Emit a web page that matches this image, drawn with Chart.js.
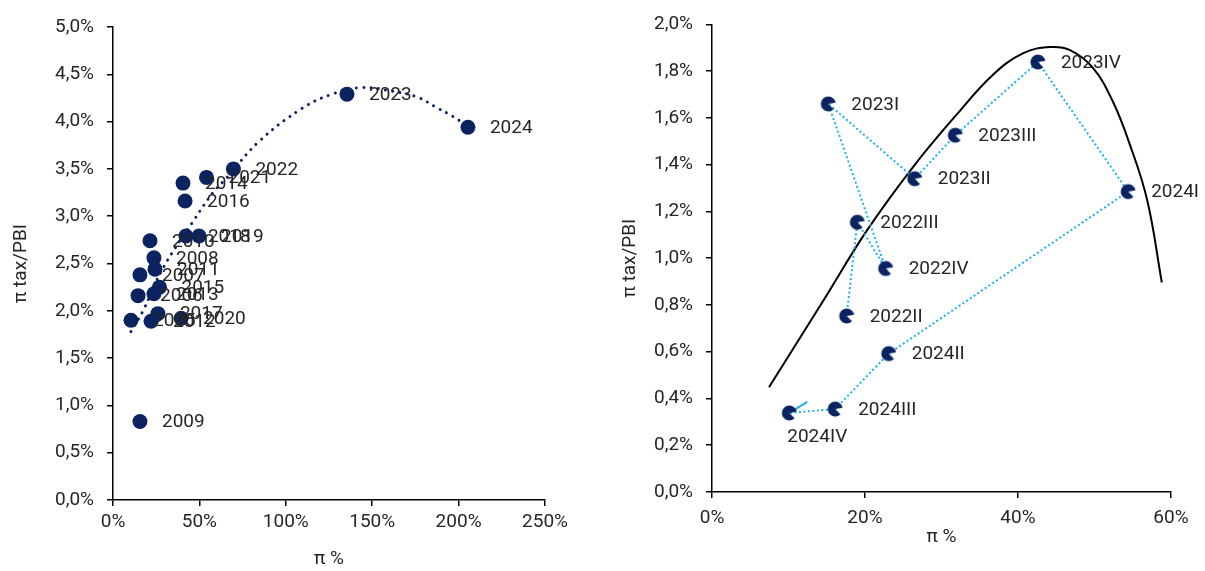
<!DOCTYPE html>
<html>
<head>
<meta charset="utf-8">
<script src="https://cdn.jsdelivr.net/npm/chart.js@4.4.0/dist/chart.umd.min.js"></script>
<style>
  html, body { margin: 0; padding: 0; background: #fff; }
  #wrap { position: relative; width: 1205px; height: 571px; }
  canvas { position: absolute; top: 0; }
  #yearChart { left: 0; }
  #quarterChart { left: 600px; }
</style>
</head>
<body>
<div id="wrap">
  <canvas id="yearChart" width="600" height="571"></canvas>
  <canvas id="quarterChart" width="605" height="571"></canvas>
</div>
<script>
// yearly points: inflation (%) vs inflation tax / GDP (%)
const years = ['2005', '2006', '2007', '2008', '2009', '2010', '2011', '2012', '2013', '2014',
  '2015', '2016', '2017', '2018', '2019', '2020', '2021', '2022', '2023', '2024'];
const yearInflation = [10.4, 14.5, 15.6, 23.7, 15.6, 21.4, 24.3, 22.0, 23.7, 40.5,
  26.9, 41.7, 26.0, 42.2, 49.8, 39.4, 54.1, 69.7, 135.4, 205.4];
const yearTax = [1.90, 2.16, 2.38, 2.56, 0.83, 2.74, 2.44, 1.89, 2.18, 3.35,
  2.25, 3.16, 1.97, 2.79, 2.79, 1.92, 3.41, 3.50, 4.29, 3.94];

// dotted trend line
const trendInflation = [10.4, 17.4, 28.9, 46.9, 57.9, 66.0, 84.5, 109.4, 126.7, 143.8, 162.0, 175.9, 188.1, 196.2, 205.4];
const trendTax = [1.78, 2.00, 2.45, 2.96, 3.25, 3.41, 3.79, 4.14, 4.29, 4.36, 4.32, 4.26, 4.14, 4.06, 3.95];

// quarterly points
const quarters = ['2022II', '2022III', '2022IV', '2023I', '2023II', '2023III', '2023IV',
  '2024I', '2024II', '2024III', '2024IV'];
const quarterInflation = [17.6, 19.0, 22.7, 15.2, 26.5, 31.8, 42.6, 54.4, 23.1, 16.1, 10.1];
const quarterTax = [0.753, 1.154, 0.956, 1.660, 1.340, 1.526, 1.839, 1.285, 0.592, 0.355, 0.338];

// black curve
const curveInflation = [7.45, 14.5, 20.3, 26.3, 32.0, 36.7, 40.7, 44.2, 46.8, 49.8, 52.4, 54.6, 56.9, 58.8];
const curveTax = [0.448, 0.816, 1.121, 1.391, 1.615, 1.784, 1.877, 1.903, 1.890, 1.814, 1.670, 1.488, 1.247, 0.896];

const NAVY = '#0b2461';
const SKY = '#1cb0f0';
const TEXT = '#262626';
const FONT_SIZE = 19;

Chart.defaults.font.family = 'Roboto';
Chart.defaults.font.size = FONT_SIZE;
Chart.defaults.color = TEXT;

function toPoints(xs, ys) {
  return xs.map((x, i) => ({ x: x, y: ys[i] }));
}

function pctComma(v) {
  return v.toFixed(1).replace('.', ',') + '%';
}

// pac-man style marker used on the quarterly chart
function makeNotchMarker() {
  const c = document.createElement('canvas');
  c.width = 18; c.height = 18;
  const g = c.getContext('2d');
  g.fillStyle = NAVY;
  g.beginPath();
  g.moveTo(9, 9);
  g.arc(9, 9, 7.5, 45 * Math.PI / 180, 350 * Math.PI / 180);
  g.closePath();
  g.fill();
  return c;
}

// text labels next to each point of dataset 0
const pointLabels = {
  id: 'pointLabels',
  afterDatasetsDraw(chart, args, opts) {
    const ctx = chart.ctx;
    const pts = chart.getDatasetMeta(0).data;
    ctx.save();
    ctx.font = FONT_SIZE + 'px Roboto';
    ctx.fillStyle = TEXT;
    ctx.textBaseline = 'middle';
    ctx.textAlign = 'left';
    pts.forEach((pt, i) => {
      const text = opts.labels[i];
      if (opts.below && opts.below.includes(text)) {
        ctx.fillText(text, pt.x - 2, pt.y + 24);
      } else {
        ctx.fillText(text, pt.x + opts.dx, pt.y + 1);
      }
    });
    ctx.restore();
  }
};

// little stroke at the end of the quarterly path
const arrowStub = {
  id: 'arrowStub',
  beforeDatasetsDraw(chart) {
    const pts = chart.getDatasetMeta(0).data;
    if (!pts.length) return;
    const p = pts[pts.length - 1];
    const ctx = chart.ctx;
    ctx.save();
    ctx.strokeStyle = SKY;
    ctx.lineWidth = 2;
    ctx.beginPath();
    ctx.moveTo(p.x, p.y);
    ctx.lineTo(p.x + 18, p.y - 11);
    ctx.stroke();
    ctx.restore();
  }
};

function axis(min, max, step, fmt, title, titlePad, width, height) {
  return {
    type: 'linear',
    min: min,
    max: max,
    border: { display: true, color: '#000', width: 1.5 },
    grid: { drawOnChartArea: false, drawTicks: true, tickLength: 6, color: '#000', tickColor: '#000', lineWidth: 1.5 },
    ticks: { stepSize: step, callback: fmt, padding: 0 },
    title: { display: true, text: title, color: TEXT, font: { size: FONT_SIZE }, padding: titlePad },
    afterFit(scale) {
      if (width) scale.width = width;
      if (height) scale.height = height;
    }
  };
}

// left chart: yearly
const yx = axis(0, 250, 50, v => v + '%', 'π %', { top: 0, bottom: 0 }, null, 71);
yx.ticks.padding = 5;
const yy = axis(0, 5, 0.5, pctComma, 'π tax/PBI', { top: 10, bottom: 0 }, 113, null);
yy.ticks.padding = 13;

new Chart(document.getElementById('yearChart'), {
  type: 'scatter',
  data: {
    datasets: [
      {
        data: toPoints(yearInflation, yearTax),
        backgroundColor: NAVY,
        pointRadius: 7.5,
        pointBorderWidth: 0,
        pointHoverRadius: 7.5
      },
      {
        data: toPoints(trendInflation, trendTax),
        showLine: true,
        borderColor: NAVY,
        borderWidth: 3,
        borderDash: [0.01, 7.3],
        borderCapStyle: 'round',
        tension: 0.4,
        pointRadius: 0,
        fill: false
      }
    ]
  },
  options: {
    responsive: false,
    animation: false,
    events: [],
    layout: { padding: { left: 0, top: 27, right: 55, bottom: 0 } },
    scales: { x: yx, y: yy },
    plugins: {
      legend: { display: false },
      tooltip: { enabled: false },
      pointLabels: { labels: years, dx: 22 }
    }
  },
  plugins: [pointLabels]
});

// right chart: quarterly
const qx = axis(0, 60, 20, v => v + '%', 'π %', { top: 0, bottom: 22 }, null, 79);
qx.ticks.padding = 9;
const qy = axis(0, 2, 0.2, pctComma, 'π tax/PBI', { top: 19, bottom: 0 }, 112, null);
qy.ticks.padding = 13;

new Chart(document.getElementById('quarterChart'), {
  type: 'scatter',
  data: {
    datasets: [
      {
        data: toPoints(quarterInflation, quarterTax),
        showLine: true,
        borderColor: SKY,
        borderWidth: 2,
        borderDash: [2, 2.5],
        pointStyle: makeNotchMarker(),
        pointRadius: 7.5,
        fill: false
      },
      {
        data: toPoints(curveInflation, curveTax),
        showLine: true,
        borderColor: '#000',
        borderWidth: 2,
        tension: 0.4,
        pointRadius: 0,
        fill: false
      }
    ]
  },
  options: {
    responsive: false,
    animation: false,
    events: [],
    layout: { padding: { left: 0, top: 19, right: 34, bottom: 0 } },
    scales: { x: qx, y: qy },
    plugins: {
      legend: { display: false },
      tooltip: { enabled: false },
      pointLabels: { labels: quarters, dx: 23, below: ['2024IV'] }
    }
  },
  plugins: [pointLabels, arrowStub]
});
</script>
</body>
</html>
